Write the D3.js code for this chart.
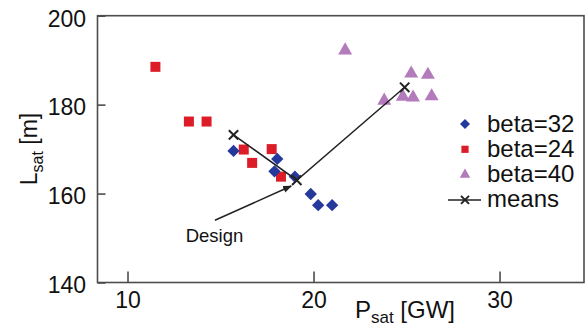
<!DOCTYPE html>
<html>
<head>
<meta charset="utf-8">
<script src="https://cdn.jsdelivr.net/npm/d3@7"></script>
<style>
  body { margin: 0; background: #fff; }
  svg { display: block; font-family: "Liberation Sans", Arial, sans-serif; }
</style>
</head>
<body>
<svg id="chart" width="588" height="325"></svg>
<script>
// values: [P_sat (GW), L_sat (m)]
var beta32 = [[15.7, 169.6], [17.9, 165.0], [18.05, 167.8], [19.0, 163.8], [19.85, 159.9], [20.25, 157.4], [21.0, 157.4]];
var beta24 = [[11.5, 188.5], [13.3, 176.2], [14.25, 176.2], [16.25, 169.9], [16.7, 166.9], [17.75, 170.0], [18.25, 163.8]];
var beta40 = [[21.7, 192.2], [23.8, 180.9], [24.8, 181.8], [25.25, 187.0], [25.35, 181.6], [26.15, 186.7], [26.35, 181.9]];
var means = [[15.7, 173.2], [19.1, 163.0], [24.9, 183.9]];
var designArrow = [[14.7, 154.0], [18.8, 161.7]];
var xTicks = [10, 20, 30];
var yTicks = [140, 160, 180, 200];
var legendLabels = ['beta=32', 'beta=24', 'beta=40', 'means'];

var blue = '#24399b', red = '#dc1c27', purple = '#b37bbb', ink = '#222';
var axisColor = '#4d4d4d';

var svg = d3.select('#chart');
// plot frame (window.top is read-only, so keep these names distinct)
var plotL = 97.5, plotR = 584, plotT = 15.7, plotB = 282.5;

var x = d3.scaleLinear().domain([8.387, 34.54]).range([plotL, plotR]);
var y = d3.scaleLinear().domain([140, 200]).range([plotB, plotT]);

// axes with inward ticks
var yAxis = svg.append('g')
  .attr('transform', 'translate(' + plotL + ',0)')
  .call(d3.axisLeft(y).tickValues(yTicks).tickSizeInner(-8).tickSizeOuter(0).tickPadding(11.5));
var xAxis = svg.append('g')
  .attr('transform', 'translate(0,' + plotB + ')')
  .call(d3.axisBottom(x).tickValues(xTicks).tickSizeInner(-11).tickSizeOuter(0).tickPadding(9.5));

[xAxis, yAxis].forEach(function (g) {
  g.select('.domain').remove();
  g.selectAll('line').attr('stroke', axisColor).attr('stroke-width', 1.6);
  g.selectAll('text').attr('fill', '#111').style('font-size', '23px');
  g.attr('font-family', null).attr('font-size', null);
});
yAxis.selectAll('text').attr('dy', '0.45em');

// frame
svg.append('rect')
  .attr('x', plotL).attr('y', plotT)
  .attr('width', plotR - plotL).attr('height', plotB - plotT)
  .attr('fill', 'none').attr('stroke', axisColor).attr('stroke-width', 1.6);

// axis titles
var yTitle = svg.append('text')
  .attr('transform', 'translate(37,149) rotate(-90)')
  .attr('text-anchor', 'middle')
  .style('font-size', '23px').attr('fill', '#111');
yTitle.append('tspan').text('L');
yTitle.append('tspan').text('sat').attr('dy', 6).style('font-size', '16px');
yTitle.append('tspan').text(' [m]').attr('dy', -6);

var xTitle = svg.append('text')
  .attr('x', 405).attr('y', 318)
  .attr('text-anchor', 'middle')
  .style('font-size', '24px').attr('fill', '#111');
xTitle.append('tspan').text('P');
xTitle.append('tspan').text('sat').attr('dy', 4.5).style('font-size', '17px');
xTitle.append('tspan').text(' [GW]').attr('dy', -4.5);

// symbol helpers
var cross = function (r) {
  return 'M' + (-r) + ',' + (-r) + 'L' + r + ',' + r + 'M' + (-r) + ',' + r + 'L' + r + ',' + (-r);
};
var drawPoints = function (data, type, size, color, rot) {
  svg.append('g').selectAll('path')
    .data(data)
    .enter().append('path')
    .attr('d', d3.symbol().type(type).size(size))
    .attr('transform', function (d) {
      return 'translate(' + x(d[0]) + ',' + y(d[1]) + ')' + (rot ? ' rotate(' + rot + ')' : '');
    })
    .attr('fill', color);
};

drawPoints(beta24, d3.symbolSquare, 100, red);
drawPoints(beta32, d3.symbolSquare, 76, blue, 45);
drawPoints(beta40, d3.symbolTriangle, 84, purple);

// means line
svg.append('path')
  .datum(means)
  .attr('d', d3.line().x(function (d) { return x(d[0]); }).y(function (d) { return y(d[1]); }))
  .attr('fill', 'none').attr('stroke', ink).attr('stroke-width', 1.5);
svg.append('g').selectAll('path')
  .data(means)
  .enter().append('path')
  .attr('d', cross(4.7))
  .attr('transform', function (d) { return 'translate(' + x(d[0]) + ',' + y(d[1]) + ')'; })
  .attr('stroke', ink).attr('stroke-width', 2).attr('fill', 'none');

// Design annotation
svg.append('defs').append('marker')
  .attr('id', 'arrow').attr('viewBox', '0 -5 10 10')
  .attr('refX', 9).attr('refY', 0)
  .attr('markerWidth', 6).attr('markerHeight', 6)
  .attr('markerUnits', 'strokeWidth')
  .attr('orient', 'auto')
  .append('path').attr('d', 'M0,-4L10,0L0,4Z').attr('fill', ink);
svg.append('line')
  .attr('x1', x(designArrow[0][0])).attr('y1', y(designArrow[0][1]))
  .attr('x2', x(designArrow[1][0])).attr('y2', y(designArrow[1][1]))
  .attr('stroke', ink).attr('stroke-width', 1.5)
  .attr('marker-end', 'url(#arrow)');
svg.append('text')
  .attr('x', 214.5).attr('y', 242)
  .attr('text-anchor', 'middle')
  .style('font-size', '18.5px').attr('fill', '#111')
  .text('Design');

// legend
var legend = svg.append('g').attr('transform', 'translate(465,124)');
var rowH = 25.3;
legendLabels.forEach(function (label, i) {
  var row = legend.append('g').attr('transform', 'translate(0,' + (i * rowH) + ')');
  if (i === 0) {
    row.append('path').attr('d', d3.symbol().type(d3.symbolSquare).size(50)).attr('transform', 'rotate(45)').attr('fill', blue);
  } else if (i === 1) {
    row.append('path').attr('d', d3.symbol().type(d3.symbolSquare).size(52)).attr('fill', red);
  } else if (i === 2) {
    row.append('path').attr('d', d3.symbol().type(d3.symbolTriangle).size(48)).attr('fill', purple);
  } else {
    row.append('line').attr('x1', -17).attr('x2', 16).attr('stroke', ink).attr('stroke-width', 1.5);
    row.append('path').attr('d', cross(4)).attr('stroke', ink).attr('stroke-width', 2).attr('fill', 'none');
  }
  row.append('text')
    .attr('x', 22).attr('y', 7.5)
    .style('font-size', '24px').attr('fill', '#111')
    .text(label);
});
</script>
</body>
</html>
